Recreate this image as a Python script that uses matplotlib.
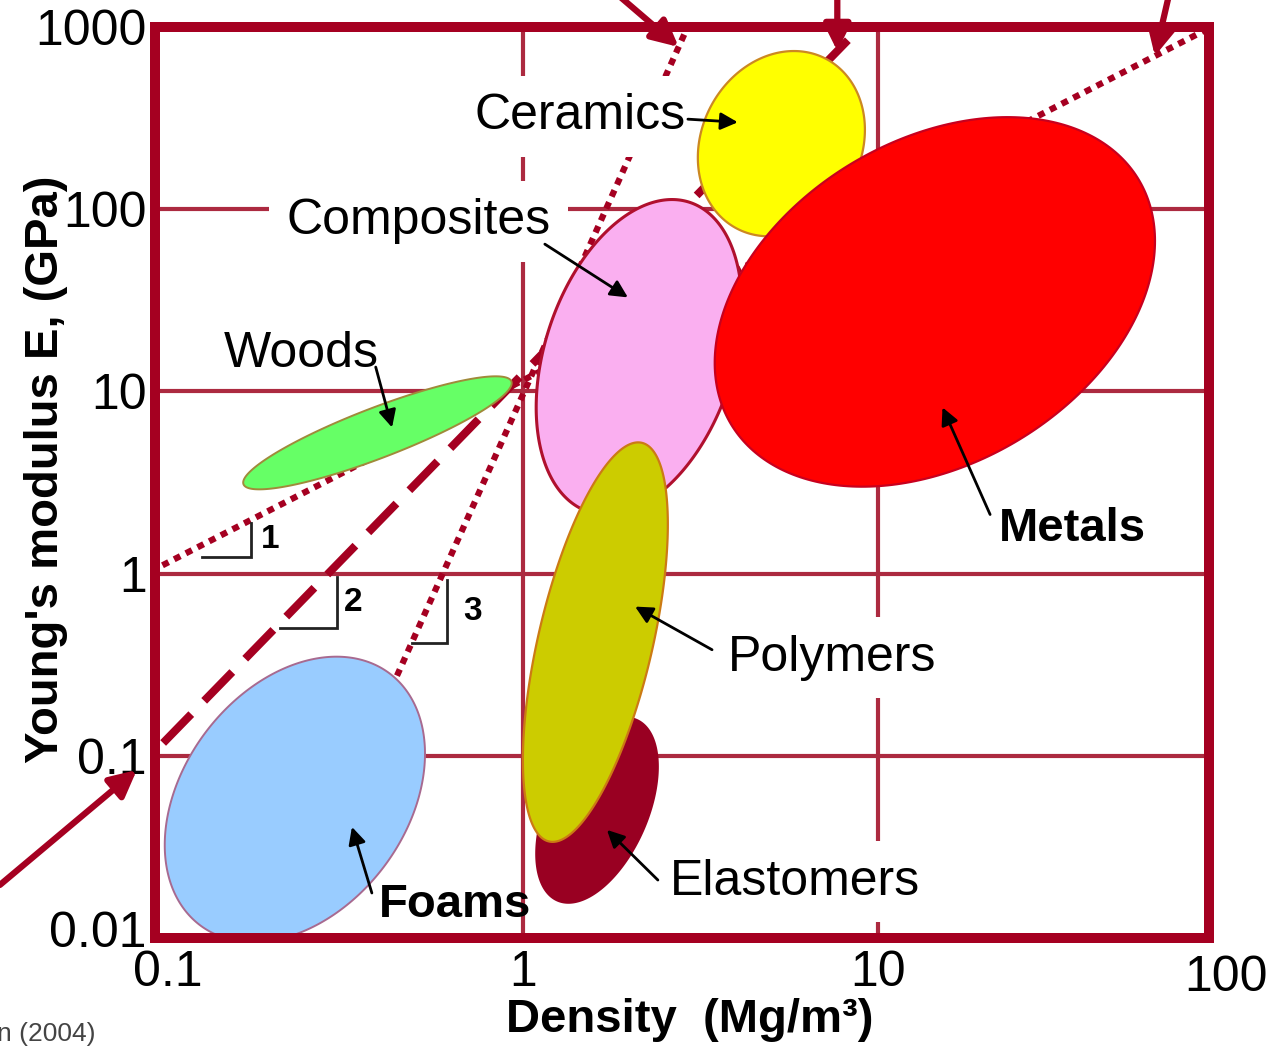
import numpy as np
import matplotlib
matplotlib.use('Agg')
import matplotlib.pyplot as plt
import matplotlib.transforms as mtransforms
from matplotlib.ticker import NullLocator

plt.rcParams['font.family'] = ['Liberation Sans', 'DejaVu Sans']

# material families: density range (Mg/m3), modulus range (GPa), tilt of the bubble
families = ['Foams', 'Woods', 'Composites', 'Ceramics', 'Metals', 'Elastomers', 'Polymers']
rho_lo = [0.098, 0.163, 1.09, 3.11, 3.47, 1.09, 1.0]
rho_hi = [0.53, 0.93, 4.14, 9.19, 60.3, 2.40, 2.56]
E_lo = [0.0095, 2.9, 2.11, 71, 3.0, 0.0156, 0.0337]
E_hi = [0.35, 12.1, 113, 738, 320, 0.162, 5.25]
tilt = [0.32, 0.88, 0.32, 0.15, 0.33, 0.47, 0.59]
face = ['#99ccff', '#66ff66', '#faaff0', '#ffff00', '#ff0000', '#990022', '#cccc00']
edge = ['#a86a90', '#a08a3a', '#b0102e', '#cc8822', '#c8001e', '#990022', '#cc7a14']
edge_width = [1.4, 1.4, 2.2, 1.6, 1.6, 1.4, 1.6]

# label text position, arrow tail and tip for each family
label_rho = [0.643, 0.237, 0.509, 1.447, 35.2, 5.84, 7.42]
label_E = [0.0152, 16.0, 85.9, 324, 1.75, 0.0203, 0.345]
tail_rho = [0.3755, 0.385, 1.153, 2.916, 20.7, 2.40, 3.41]
tail_E = [0.01766, 13.6, 64.3, 312, 2.11, 0.0208, 0.382]
tip_rho = [0.33, 0.428, 1.976, 4.03, 15.2, 1.725, 2.07]
tip_E = [0.0407, 6.34, 32.8, 300, 8.17, 0.0392, 0.659]
bold_labels = ['Foams', 'Metals']
boxed_labels = ['Composites', 'Ceramics', 'Elastomers', 'Polymers']

# design guide lines E = coef * rho**power
guide_power = [1, 2, 4.35]
guide_coef = [11.5, 12.5, 9.6]
guide_style = [(0, (1.1, 1.0)), (0, (5.0, 2.3)), (0, (1.1, 1.0))]
guide_width = [4.5, 5.8, 4.5]

# arrows pointing at the guide lines: guide index, modulus at the tip, tail offset (px)
arrow_guide = [2, 1, 0, 1]
arrow_E = [777, 738, 693, 0.0836]
arrow_dx = [-70, 0, 15, -137]
arrow_dy = [60, 60, 65, -115]

# slope triangles
tri_corner_rho = [0.172, 0.299, 0.611]
tri_corner_E = [1.24, 0.505, 0.418]
tri_left_rho = [0.125, 0.207, 0.487]
tri_top_E = [1.9, 0.963, 0.927]
tri_text = ['1', '2', '3']
tri_text_dx = [9, 7, 16]

xticks = [0.1, 1, 10]
xtick_labels = ['0.1', '1', '10']
yticks = [0.01, 0.1, 1, 10, 100, 1000]
ytick_labels = ['0.01', '0.1', '1', '10', '100', '1000']
x_grid = [1, 10]
y_grid = [0.1, 1, 10, 100]

frame = '#a50021'
grid_col = '#ac2a40'


def bubble(lo_x, hi_x, lo_y, hi_y, r, n=300):
    t = np.linspace(0, 2 * np.pi, n)
    cx, hx = (np.log10(lo_x) + np.log10(hi_x)) / 2, (np.log10(hi_x) - np.log10(lo_x)) / 2
    cy, hy = (np.log10(lo_y) + np.log10(hi_y)) / 2, (np.log10(hi_y) - np.log10(lo_y)) / 2
    lx = cx + hx * np.cos(t)
    ly = cy + hy * (r * np.cos(t) + np.sqrt(1 - r ** 2) * np.sin(t))
    return 10 ** lx, 10 ** ly


fig = plt.figure(figsize=(12.73, 10.46), dpi=100)
ax = fig.add_axes([155 / 1273, 1 - 938 / 1046, 1054 / 1273, 911 / 1046])
ax.set_xscale('log')
ax.set_yscale('log')
ax.set_xlim(0.092, 85.6)
ax.set_ylim(0.01, 1000)

for xv in x_grid:
    ax.axvline(xv, color=grid_col, lw=3, zorder=1)
for yv in y_grid:
    ax.axhline(yv, color=grid_col, lw=3, zorder=1)

rho = np.logspace(-1.6, 2.1, 400)
for p, c, ls, lw in zip(guide_power, guide_coef, guide_style, guide_width):
    ax.plot(rho, c * rho ** p, color=frame, lw=lw, linestyle=ls, zorder=2)

for i, name in enumerate(families):
    bx, by = bubble(rho_lo[i], rho_hi[i], E_lo[i], E_hi[i], tilt[i])
    ax.fill(bx, by, facecolor=face[i], edgecolor=edge[i], lw=edge_width[i], zorder=3 + 0.1 * i)

for i, name in enumerate(families):
    kw = dict(ha='center', va='center', fontsize=36, zorder=5)
    if name in bold_labels:
        kw.update(fontsize=34, fontweight='bold')
    if name in boxed_labels:
        # white box hides grid and guide lines behind the label, but not the bubbles
        kw['bbox'] = dict(boxstyle='square,pad=0.35', fc='white', ec='none')
        kw['zorder'] = 2.5
    ax.text(label_rho[i], label_E[i], name, **kw)
    ax.annotate('', xy=(tip_rho[i], tip_E[i]), xytext=(tail_rho[i], tail_E[i]),
                arrowprops=dict(arrowstyle='-|>', color='black', lw=2,
                                mutation_scale=26, shrinkA=0, shrinkB=0),
                zorder=6)

# slope triangles
for i in range(3):
    ax.plot([tri_left_rho[i], tri_corner_rho[i], tri_corner_rho[i]],
            [tri_corner_E[i], tri_corner_E[i], tri_top_E[i]],
            color='#222222', lw=2, zorder=4, solid_joinstyle='miter')
    ax.annotate(tri_text[i], xy=(tri_corner_rho[i], np.sqrt(tri_corner_E[i] * tri_top_E[i])),
                xytext=(tri_text_dx[i], 0), textcoords='offset pixels',
                ha='left', va='center', fontsize=24, fontweight='bold', zorder=4)

# arrows onto the guide lines
for g, e, dx, dy in zip(arrow_guide, arrow_E, arrow_dx, arrow_dy):
    r_tip = (e / guide_coef[g]) ** (1 / guide_power[g])
    ax.annotate('', xy=(r_tip, e), xytext=(dx, dy), textcoords='offset pixels',
                arrowprops=dict(arrowstyle='-|>', color=frame, lw=4.5,
                                mutation_scale=40, shrinkA=0, shrinkB=0),
                annotation_clip=False, zorder=7)

for s in ax.spines.values():
    s.set_color(frame)
    s.set_linewidth(7.2)
    s.set_zorder(10)

ax.set_xticks(xticks)
ax.set_xticklabels(xtick_labels)
ax.set_yticks(yticks)
ax.set_yticklabels(ytick_labels)
ax.xaxis.set_minor_locator(NullLocator())
ax.yaxis.set_minor_locator(NullLocator())
ax.tick_params(length=0, labelsize=36)
ax.tick_params(axis='x', pad=9)
ax.tick_params(axis='y', pad=6)

# lift the bottom y label a little so it clears the x labels
lowest = ax.get_yticklabels()[0]
lowest.set_transform(lowest.get_transform() +
                     mtransforms.ScaledTranslation(0, 0.09, fig.dpi_scale_trans))

ax.annotate('100', xy=(100, 0), xycoords=('data', 'axes fraction'),
            xytext=(-5, -12), textcoords='offset points', ha='center', va='top',
            fontsize=36, annotation_clip=False)

ax.set_xlabel('Density  (Mg/m³)', fontsize=34, fontweight='bold')
ax.set_ylabel("Young's modulus E, (GPa)", fontsize=34, fontweight='bold')
ax.xaxis.set_label_coords(0.507, -0.066)
ax.yaxis.set_label_coords(-0.083, 0.514)

fig.text(-0.002, 0.011, 'n (2004)', fontsize=19, color='#444444', ha='left', va='center')

fig.savefig('out.png', dpi=100)
